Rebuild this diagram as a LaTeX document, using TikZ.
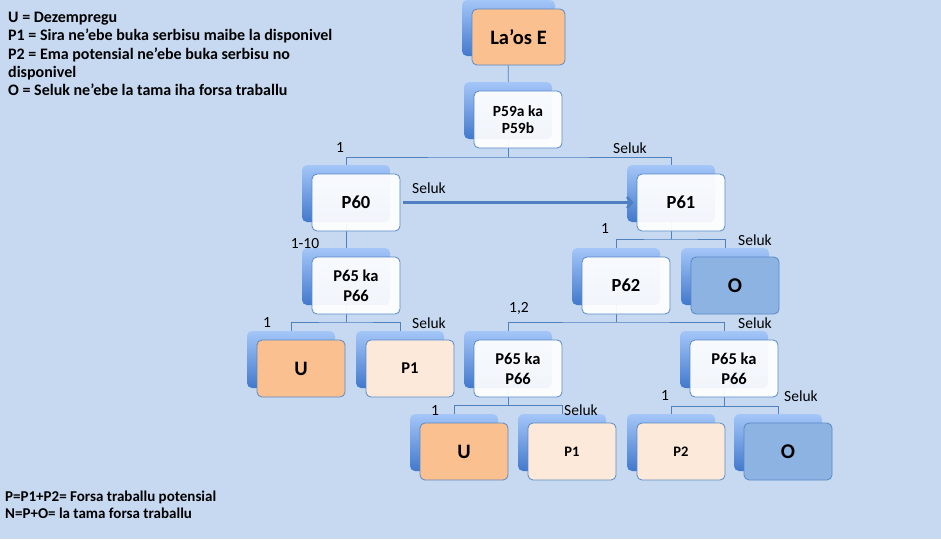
\documentclass[tikz,border=0pt]{standalone}
\usepackage{fontspec}
\setmainfont{Carlito}
\usetikzlibrary{arrows.meta,calc}
\definecolor{bg}{HTML}{C6D9F1}
\definecolor{ln}{HTML}{4F81BD}
\definecolor{edge}{HTML}{5A8AC6}
\definecolor{orng}{HTML}{FAC090}
\definecolor{peach}{HTML}{FDE9D9}
\definecolor{oblue}{HTML}{8DB3E2}
\definecolor{shtop}{HTML}{A4C6F8}
\definecolor{shbot}{HTML}{4279CC}
\definecolor{arrowc}{HTML}{4F7FC0}
\tikzset{
  backbox/.style={rounded corners=5pt, minimum width=88pt, minimum height=57pt,
    top color=shtop, bottom color=shbot, inner sep=0pt},
  frontbox/.style={rounded corners=5pt, minimum width=88pt, minimum height=57pt,
    draw=edge, line width=0.8pt, fill=white, fill opacity=0.93, text opacity=1,
    align=center, inner sep=0pt, font=\bfseries\fontsize{18.5}{20}\selectfont},
  orangebox/.style={frontbox, fill=orng, fill opacity=1, font=\bfseries\fontsize{20.5}{22}\selectfont},
  peachbox/.style={frontbox, fill=peach, fill opacity=1, font=\bfseries\fontsize{16.5}{18}\selectfont},
  obox/.style={frontbox, fill=oblue, fill opacity=1, font=\bfseries\fontsize{21}{22}\selectfont},
  twoline/.style={font=\bfseries\fontsize{16.5}{20}\selectfont},
  conn/.style={draw=ln, line width=0.8pt},
  arrowst/.style={draw=arrowc, line width=2.4pt, -{Straight Barb[length=5pt,width=11pt]},
    shorten <=3pt, shorten >=3pt},
  lbl/.style={font=\fontsize{15.5}{16}\selectfont, inner sep=0pt},
  legend/.style={font=\bfseries\fontsize{16}{17}\selectfont, inner sep=0pt, anchor=base west},
  foot/.style={font=\bfseries\fontsize{15}{16}\selectfont, inner sep=0pt, anchor=base west},
}
\begin{document}
\begin{tikzpicture}[x=1pt,y=-1pt]
\useasboundingbox (0,0) rectangle (941,539);
\fill[bg] (0,0) rectangle (941,539);

% junction coordinates
\coordinate (j1) at (508,157);
\coordinate (j2) at (671,239);
\coordinate (j3) at (346,322);
\coordinate (j4) at (616,322);
\coordinate (j5) at (508,405);
\coordinate (j6) at (724,406);

% back boxes positions (centres)
\coordinate (laosC) at (508.5,28);
\coordinate (p59C) at (508,110.5);
\coordinate (p60C) at (346,193.5);
\coordinate (p61C) at (671,193.5);
\coordinate (p65aC) at (346,276.5);
\coordinate (p62C) at (616,276.5);
\coordinate (oaC) at (725,276.5);
\coordinate (uaC) at (291,359.5);
\coordinate (p1aC) at (400,359.5);
\coordinate (p65bC) at (508,359.5);
\coordinate (p65cC) at (724,359.5);
\coordinate (ubC) at (454,442.5);
\coordinate (p1bC) at (562,442.5);
\coordinate (p2C) at (671,442.5);
\coordinate (obC) at (778,442.5);

% connectors
\draw[conn] (laosC) -- (p59C);
\draw[conn] (p59C) -- (j1);
\draw[conn] (p60C) |- (j1) -| (p61C);
\draw[conn] (p60C) -- (p65aC);
\draw[conn] (p61C) -- (j2);
\draw[conn] (p62C) |- (j2) -| (oaC);
\draw[conn] (p65aC) -- (j3);
\draw[conn] (uaC) |- (j3) -| (p1aC);
\draw[conn] (p62C) -- (j4);
\draw[conn] (p65bC) |- (j4) -| (p65cC);
\draw[conn] (p65bC) -- (j5);
\draw[conn] (ubC) |- (j5) -| (p1bC);
\draw[conn] (p65cC) -- (j6);
\draw[conn] (p2C) |- (j6) -| (obC);

% back boxes
\node[backbox, minimum width=93pt, minimum height=56pt] (laosB) at (laosC) {};
\node[backbox] (p59B) at (p59C) {};
\node[backbox] (p60B) at (p60C) {};
\node[backbox] (p61B) at (p61C) {};
\node[backbox] (p65aB) at (p65aC) {};
\node[backbox] (p62B) at (p62C) {};
\node[backbox] (oaB) at (oaC) {};
\node[backbox] (uaB) at (uaC) {};
\node[backbox] (p1aB) at (p1aC) {};
\node[backbox] (p65bB) at (p65bC) {};
\node[backbox] (p65cB) at (p65cC) {};
\node[backbox] (ubB) at (ubC) {};
\node[backbox] (p1bB) at (p1bC) {};
\node[backbox] (p2B) at (p2C) {};
\node[backbox] (obB) at (obC) {};

% front boxes
\node[orangebox, minimum width=93pt, minimum height=56pt] (laos) at ($(laosB)+(10,9)$) {La’os E};
\node[frontbox, font=\bfseries\fontsize{15.5}{17}\selectfont] (p59) at ($(p59B)+(10,9)$) {P59a ka\\P59b};
\node[frontbox] (p60) at ($(p60B)+(10,9)$) {P60};
\node[frontbox] (p61) at ($(p61B)+(10,9)$) {P61};
\node[frontbox, twoline] (p65a) at ($(p65aB)+(10,9)$) {P65 ka\\P66};
\node[frontbox] (p62) at ($(p62B)+(10,9)$) {P62};
\node[obox] (oa) at ($(oaB)+(10,9)$) {O};
\node[orangebox] (ua) at ($(uaB)+(10,9)$) {U};
\node[peachbox] (p1a) at ($(p1aB)+(10,9)$) {P1};
\node[frontbox, twoline] (p65b) at ($(p65bB)+(10,9)$) {P65 ka\\P66};
\node[frontbox, twoline] (p65c) at ($(p65cB)+(10,9)$) {P65 ka\\P66};
\node[orangebox] (ub) at ($(ubB)+(10,9)$) {U};
\node[peachbox, font=\bfseries\fontsize{14.5}{16}\selectfont] (p1b) at ($(p1bB)+(10,9)$) {P1};
\node[peachbox, font=\bfseries\fontsize{14.5}{16}\selectfont] (p2) at ($(p2B)+(10,9)$) {P2};
\node[obox] (ob) at ($(obB)+(10,9)$) {O};

% arrow
\draw[arrowst] (p60) -- (p61);

% labels
\node[lbl] (l1) at (340,148) {1};
\node[lbl] (l2) at (630,148) {Seluk};
\node[lbl] (l3) at (429,188) {Seluk};
\node[lbl] (l4) at (305,244) {1-10};
\node[lbl] (l5) at (605,229) {1};
\node[lbl] (l6) at (755,240) {Seluk};
\node[lbl] (l7) at (267,323) {1};
\node[lbl] (l8) at (429,323) {Seluk};
\node[lbl] (l9) at (519,308) {1,2};
\node[lbl] (l10) at (755,323) {Seluk};
\node[lbl] (l11) at (435,411) {1};
\node[lbl] (l12) at (581,410) {Seluk};
\node[lbl] (l13) at (665,396) {1};
\node[lbl] (l14) at (801,396) {Seluk};

% legend
\node[legend] (g1) at (8,22.3) {U = Dezempregu};
\node[legend] (g2) at (8,40.6) {P1 = Sira ne’ebe buka serbisu maibe la disponivel};
\node[legend] (g3) at (8,59) {P2 = Ema potensial ne’ebe buka serbisu no};
\node[legend] (g4) at (8,77.4) {disponivel};
\node[legend] (g5) at (8,95.8) {O = Seluk ne’ebe la tama iha forsa traballu};

\node[foot] (f1) at (5,501.3) {P=P1+P2= Forsa traballu potensial};
\node[foot] (f2) at (5,518.8) {N=P+O= la tama forsa traballu};
\end{tikzpicture}
\end{document}
